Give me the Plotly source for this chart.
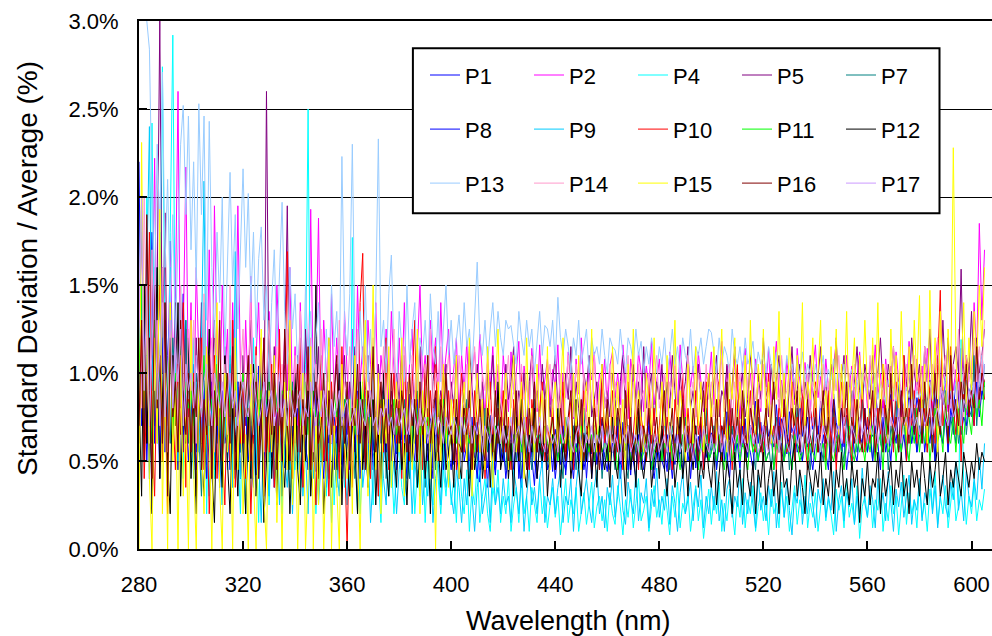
import plotly.graph_objects as go

# Wavelength grid (nm), 1 nm steps
WAVELENGTH = list(range(280, 700))

# Values in hundredths of a percent (73 -> 0.73 %), 280 nm onward
P1 = [220, 90, 150, 60, 120, 180, 70, 130, 95, 160, 55, 110, 140, 75, 125, 60, 100, 145, 80, 115,
      70, 105, 55, 90, 62, 110, 48, 85, 95, 58, 100, 72, 45, 88, 66, 102, 54, 80, 92, 60,
      78, 50, 96, 68, 84, 42, 104, 74, 58, 90, 66, 52, 98, 80, 60, 88, 46, 76, 94, 64,
      56, 86, 72, 100, 50, 82, 68, 92, 44, 78, 62, 96, 70, 54, 90, 76, 58, 84, 48, 72,
      88, 60, 74, 52, 94, 66, 80, 46, 70, 86, 56, 78, 64, 92, 50, 74, 60, 82, 68, 54,
      84, 62, 72, 48, 88, 58, 76, 66, 52, 80, 70, 56, 74, 46, 86, 64, 58, 78, 50, 68,
      62, 48, 74, 40, 66, 56, 80, 44, 60, 52, 72, 38, 64, 58, 46, 76, 54, 42, 68, 60,
      50, 70, 44, 62, 56, 78, 40, 58, 66, 48, 74, 52, 36, 64, 60, 46, 70, 54, 62, 44,
      68, 56, 48, 72, 42, 60, 64, 50, 76, 46, 58, 66, 40, 62, 54, 70, 48, 60, 74, 52,
      44, 64, 58, 50, 68, 46, 72, 56, 62, 42, 66, 54, 48, 70, 58, 52, 76, 46, 60, 64,
      50, 68, 56, 44, 72, 60, 48, 66, 54, 62, 74, 50, 58, 70, 46, 64, 56, 68, 52, 60,
      66, 54, 74, 60, 70, 50, 78, 62, 68, 56, 80, 64, 58, 74, 52, 70, 66, 84, 60, 72,
      56, 76, 64, 70, 58, 82, 62, 74, 68, 54, 78, 66, 72, 60, 86, 64, 70, 58, 80, 68,
      74, 62, 84, 70, 60, 78, 66, 88, 72, 64, 82, 58, 76, 70, 90, 66, 74, 62, 86, 72,
      68, 80, 64, 92, 74, 70, 84, 62, 78, 88, 72, 66, 94, 76, 82, 70, 90, 74, 68, 86,
      78, 92, 72, 84, 96, 76, 88, 70, 94, 82, 98, 80, 86, 74, 100, 84, 92, 78, 96, 88,
      94, 84, 102, 90, 98, 92]

P2 = [120, 180, 90, 150, 70, 110, 222, 95, 160, 60, 130, 85, 175, 100, 140, 260, 80, 120, 217, 90,
      140, 70, 160, 100, 55, 130, 90, 170, 60, 195, 110, 75, 150, 95, 125, 60, 140, 85, 195, 100,
      70, 130, 85, 155, 65, 110, 140, 80, 120, 60, 135, 95, 75, 150, 105, 70, 125, 90, 160, 80,
      115, 65, 140, 95, 120, 75, 193, 90, 110, 188, 80, 130, 100, 70, 145, 85, 120, 95, 65, 135,
      100, 80, 125, 70, 150, 95, 115, 60, 130, 105, 85, 140, 75, 110, 95, 125, 80, 135, 100, 70,
      120, 90, 140, 80, 105, 125, 75, 115, 150, 95, 110, 85, 130, 100, 120, 80, 140, 95, 110, 125,
      85, 105, 120, 75, 110, 90, 118, 80, 100, 112, 88, 122, 95, 75, 108, 92, 115, 82, 104, 70,
      110, 95, 78, 112, 88, 100, 118, 75, 104, 92, 82, 114, 98, 78, 116, 86, 96, 108, 82, 102,
      92, 116, 78, 100, 86, 112, 95, 74, 108, 88, 120, 92, 78, 104, 96, 112, 82, 100, 90, 108,
      78, 104, 112, 86, 100, 82, 116, 92, 74, 108, 96, 86, 112, 100, 78, 104, 92, 118, 82, 96,
      108, 86, 100, 78, 112, 92, 104, 82, 116, 96, 74, 108, 92, 104, 82, 112, 96, 78, 100, 92,
      112, 82, 100, 92, 118, 78, 104, 96, 86, 108, 92, 74, 104, 114, 86, 100, 82, 108, 96, 78,
      104, 92, 114, 82, 100, 118, 86, 96, 78, 108, 92, 104, 82, 114, 96, 86, 106, 92, 78, 102,
      116, 86, 98, 82, 108, 92, 78, 104, 118, 86, 100, 80, 110, 92, 104, 84, 98, 112, 88, 100,
      80, 106, 94, 116, 86, 100, 78, 108, 92, 104, 84, 112, 96, 80, 106, 90, 118, 96, 82, 108,
      92, 104, 84, 114, 96, 80, 106, 120, 88, 100, 94, 78, 108, 90, 102, 82, 114, 96, 76, 106,
      96, 140, 110, 185, 130, 170]

P4 = [80, 140, 60, 200, 110, 242, 90, 160, 70, 274, 120, 50, 180, 292, 100, 60, 150, 40, 130, 90,
      60, 120, 30, 90, 50, 140, 20, 100, 70, 40, 110, 60, 25, 95, 45, 130, 35, 80, 55, 20,
      100, 45, 75, 30, 120, 60, 15, 90, 50, 80, 25, 70, 110, 40, 65, 20, 95, 55, 35, 85,
      45, 70, 30, 60, 105, 250, 40, 80, 20, 65, 50, 90, 30, 55, 75, 25, 60, 40, 85, 35,
      55, 30, 177, 45, 70, 20, 50, 85, 35, 60, 25, 75, 40, 15, 55, 65, 30, 50, 20, 45,
      60, 35, 25, 55, 40, 70, 20, 45, 30, 60, 15, 50, 35, 25, 55, 40, 20, 45, 30, 50,
      25, 40, 15, 55, 30, 20, 45, 10, 35, 25, 50, 15, 30, 40, 20, 10, 35, 25, 45, 15,
      30, 20, 40, 10, 25, 35, 15, 45, 20, 30, 10, 35, 25, 15, 40, 20, 30, 12, 25, 35,
      18, 30, 8, 25, 40, 15, 28, 20, 35, 10, 22, 32, 14, 26, 38, 12, 24, 30, 16, 28,
      10, 32, 20, 14, 36, 24, 8, 28, 18, 34, 12, 26, 40, 16, 22, 30, 10, 24, 36, 18,
      28, 14, 34, 22, 8, 30, 18, 38, 12, 26, 20, 32, 10, 24, 36, 16, 28, 6, 22, 34,
      14, 30, 20, 38, 10, 26, 16, 34, 22, 8, 30, 18, 40, 12, 28, 20, 36, 10, 24, 32,
      16, 28, 8, 34, 20, 26, 12, 38, 18, 30, 10, 24, 36, 14, 28, 20, 42, 12, 26, 18,
      32, 10, 24, 38, 16, 28, 20, 8, 34, 22, 30, 12, 40, 18, 26, 14, 36, 6, 24, 30,
      18, 34, 12, 28, 22, 40, 10, 26, 16, 36, 20, 30, 8, 24, 42, 14, 32, 20, 28, 12,
      38, 18, 26, 10, 34, 22, 44, 14, 30, 20, 36, 12, 28, 40, 16, 24, 119, 34, 14, 30,
      20, 38, 16, 28, 22, 34]

P5 = [60, 130, 90, 170, 50, 110, 80, 150, 300, 100, 191, 70, 120, 60, 140, 85, 110, 55, 125, 75,
      95, 60, 120, 80, 140, 55, 105, 70, 90, 130, 65, 100, 50, 115, 85, 60, 125, 75, 95, 55,
      110, 70, 90, 130, 60, 100, 80, 120, 55, 260, 85, 70, 115, 60, 95, 80, 105, 195, 75, 90,
      60, 110, 85, 70, 125, 90, 55, 100, 75, 115, 65, 95, 80, 120, 60, 90, 105, 70, 85, 110,
      65, 95, 80, 115, 70, 100, 55, 90, 110, 75, 85, 60, 105, 80, 95, 115, 70, 90, 65, 100,
      85, 110, 70, 95, 60, 105, 80, 90, 115, 70, 100, 85, 65, 95, 110, 75, 90, 80, 105, 70,
      95, 80, 110, 65, 100, 85, 75, 115, 90, 70, 105, 80, 95, 60, 100, 85, 110, 75, 90, 80,
      70, 105, 85, 95, 115, 75, 90, 80, 100, 65, 95, 110, 80, 90, 70, 105, 85, 100, 75, 95,
      110, 80, 90, 70, 100, 85, 115, 75, 95, 80, 65, 100, 90, 110, 75, 85, 95, 70, 105, 80,
      90, 75, 100, 85, 65, 95, 110, 80, 90, 70, 105, 85, 95, 75, 115, 80, 90, 100, 70, 95,
      85, 105, 75, 95, 80, 110, 90, 70, 100, 85, 95, 115, 80, 90, 75, 105, 85, 95, 70, 100,
      80, 95, 110, 75, 90, 85, 105, 70, 95, 115, 80, 90, 100, 75, 85, 110, 95, 70, 100, 85,
      120, 90, 75, 105, 85, 95, 110, 80, 100, 70, 95, 115, 85, 90, 105, 75, 95, 85, 110, 90,
      80, 100, 115, 85, 95, 75, 105, 90, 120, 80, 95, 110, 85, 100, 75, 95, 115, 90, 80, 105,
      95, 85, 110, 75, 100, 120, 90, 80, 105, 95, 115, 85, 100, 75, 110, 95, 85, 120, 100, 90,
      105, 80, 115, 95, 125, 85, 100, 110, 90, 130, 95, 120, 85, 105, 115, 100, 159, 90, 110, 100,
      135, 95, 120, 100, 110, 125]

P7 = [90, 150, 60, 120, 40, 100, 130, 70, 110, 50, 140, 80, 60, 120, 90, 45, 105, 75, 130, 60,
      85, 45, 100, 65, 30, 90, 55, 110, 40, 75, 60, 95, 35, 80, 50, 105, 65, 40, 85, 55,
      70, 30, 95, 60, 45, 80, 55, 100, 35, 70, 50, 85, 40, 65, 90, 30, 60, 75, 45, 95,
      55, 70, 35, 85, 60, 45, 100, 50, 65, 30, 80, 55, 70, 40, 90, 60, 35, 75, 50, 85,
      45, 65, 80, 40, 60, 95, 50, 70, 35, 85, 55, 45, 75, 60, 90, 40, 65, 50, 80, 55,
      70, 45, 85, 55, 40, 75, 60, 90, 50, 65, 35, 80, 55, 70, 45, 85, 60, 50, 75, 55,
      65, 50, 80, 45, 70, 55, 85, 40, 60, 75, 50, 65, 45, 80, 55, 70, 40, 60, 75, 50,
      60, 45, 70, 55, 80, 50, 65, 40, 75, 55, 60, 45, 85, 55, 65, 50, 70, 45, 60, 75,
      50, 65, 55, 40, 75, 60, 50, 70, 45, 65, 55, 80, 50, 60, 45, 70, 55, 65, 40, 60,
      70, 50, 60, 45, 75, 55, 65, 50, 40, 70, 60, 55, 75, 45, 65, 50, 60, 70, 45, 55,
      65, 50, 75, 55, 45, 70, 60, 50, 65, 40, 75, 55, 60, 50, 70, 45, 65, 55, 80, 50,
      60, 70, 45, 65, 55, 75, 50, 60, 70, 45, 65, 55, 80, 50, 60, 70, 55, 45, 75, 60,
      50, 70, 60, 45, 65, 75, 55, 60, 50, 70, 45, 65, 60, 80, 55, 50, 70, 60, 45, 65,
      75, 55, 60, 50, 70, 65, 45, 80, 55, 65, 60, 50, 75, 60, 45, 70, 55, 65, 85, 60,
      55, 70, 50, 65, 80, 60, 55, 75, 45, 70, 60, 85, 55, 65, 75, 50, 70, 60, 80, 55,
      70, 60, 85, 55, 75, 65, 50, 80, 70, 60, 90, 55, 75, 65, 85, 60, 70, 95, 65, 80,
      75, 110, 70, 95, 85, 105]

P8 = [140, 70, 110, 50, 90, 150, 60, 100, 40, 120, 80, 55, 130, 70, 95, 45, 115, 65, 85, 50,
      75, 95, 45, 70, 60, 100, 40, 65, 85, 50, 75, 35, 90, 60, 70, 45, 80, 55, 95, 40,
      65, 80, 50, 70, 40, 90, 60, 75, 45, 85, 55, 65, 35, 80, 70, 50, 95, 45, 60, 75,
      50, 85, 40, 70, 60, 45, 80, 55, 90, 50, 65, 40, 75, 60, 85, 45, 70, 55, 40, 80,
      60, 45, 75, 55, 85, 40, 65, 70, 50, 80, 45, 60, 75, 35, 65, 55, 85, 50, 70, 45,
      80, 55, 65, 40, 70, 60, 50, 85, 45, 65, 75, 50, 60, 40, 70, 55, 80, 45, 65, 55,
      45, 65, 55, 40, 70, 50, 60, 45, 75, 55, 40, 65, 50, 60, 35, 70, 55, 45, 65, 50,
      60, 40, 55, 70, 45, 60, 50, 35, 65, 55, 45, 70, 50, 40, 60, 55, 65, 45, 50, 60,
      40, 55, 65, 50, 45, 70, 55, 40, 60, 50, 65, 45, 55, 70, 40, 60, 50, 55, 45, 65,
      55, 45, 60, 50, 70, 40, 55, 65, 45, 60, 50, 40, 65, 55, 45, 60, 70, 50, 40, 55,
      60, 50, 45, 65, 55, 40, 60, 70, 50, 45, 55, 65, 40, 60, 50, 55, 70, 45, 60, 50,
      55, 65, 45, 60, 50, 70, 55, 40, 65, 55, 60, 45, 70, 50, 60, 55, 45, 65, 50, 60,
      70, 50, 55, 65, 45, 60, 75, 55, 50, 65, 60, 45, 70, 55, 60, 50, 65, 75, 55, 45,
      60, 70, 50, 65, 55, 45, 70, 60, 50, 75, 55, 65, 45, 60, 70, 55, 50, 65, 60, 80,
      55, 65, 50, 70, 60, 45, 75, 55, 65, 50, 70, 60, 80, 55, 65, 50, 75, 60, 70, 55,
      65, 80, 55, 70, 60, 75, 50, 85, 65, 60, 75, 55, 80, 70, 60, 90, 65, 75, 70, 85,
      80, 70, 95, 75, 90, 85]

P9 = [100, 200, 70, 150, 240, 90, 130, 60, 180, 80, 110, 40, 160, 70, 120, 50, 140, 90, 60, 110,
      70, 40, 95, 55, 120, 209, 60, 30, 85, 45, 100, 65, 25, 80, 50, 110, 35, 169, 60, 40,
      90, 20, 70, 50, 35, 85, 45, 15, 75, 55, 30, 100, 40, 60, 25, 80, 50, 35, 70, 20,
      60, 45, 85, 30, 55, 20, 75, 40, 65, 25, 50, 90, 35, 60, 15, 70, 45, 30, 80, 50,
      25, 65, 40, 55, 20, 75, 35, 50, 60, 15, 45, 70, 30, 55, 40, 25, 65, 35, 50, 20,
      45, 60, 30, 40, 55, 20, 50, 35, 65, 25, 45, 30, 55, 15, 40, 50, 25, 60, 35, 45,
      30, 20, 45, 35, 15, 40, 25, 50, 30, 10, 35, 45, 20, 30, 40, 15, 50, 25, 35, 20,
      40, 25, 30, 15, 45, 35, 20, 40, 10, 30, 45, 25, 35, 20, 40, 50, 15, 30, 25, 40,
      20, 35, 45, 15, 30, 25, 40, 10, 35, 50, 20, 30, 40, 25, 15, 35, 45, 20, 30, 12,
      35, 25, 42, 18, 30, 48, 22, 14, 38, 28, 20, 44, 16, 32, 26, 40, 12, 34, 24, 46,
      18, 30, 22, 40, 14, 36, 26, 10, 32, 44, 20, 28, 38, 16, 34, 24, 42, 12, 30, 20,
      36, 22, 44, 16, 28, 10, 34, 40, 18, 30, 24, 46, 14, 32, 20, 38, 26, 12, 42, 22,
      30, 16, 36, 24, 44, 12, 28, 34, 18, 40, 22, 8, 32, 26, 42, 14, 30, 20, 38, 24,
      12, 34, 26, 40, 18, 30, 22, 44, 10, 28, 36, 16, 32, 24, 40, 14, 30, 20, 46, 26,
      18, 36, 28, 12, 40, 22, 32, 16, 44, 26, 10, 34, 24, 38, 18, 30, 42, 14, 28, 22,
      40, 16, 32, 26, 46, 20, 36, 12, 30, 42, 24, 18, 38, 28, 50, 22, 34, 16, 44, 30,
      24, 40, 28, 52, 34, 60]

P10 = [60, 120, 40, 90, 180, 70, 30, 110, 150, 50, 95, 20, 130, 80, 45, 105, 65, 140, 35, 85,
       55, 100, 30, 75, 120, 45, 90, 20, 70, 110, 40, 85, 60, 25, 95, 50, 130, 35, 75, 60,
       100, 40, 80, 20, 65, 115, 45, 90, 30, 75, 55, 105, 35, 70, 125, 50, 85, 169, 60, 40,
       90, 55, 120, 35, 75, 100, 45, 65, 25, 85, 110, 50, 70, 30, 95, 60, 80, 40, 115, 55,
       0, 75, 35, 95, 60, 140, 168, 50, 85, 40, 105, 65, 30, 90, 55, 120, 45, 75, 100, 60,
       85, 40, 110, 65, 50, 95, 130, 55, 75, 45, 105, 70, 90, 60, 115, 50, 80, 100, 65, 90,
       60, 85, 45, 75, 100, 55, 80, 65, 45, 90, 70, 55, 85, 40, 75, 95, 60, 50, 80, 65,
       90, 55, 75, 45, 85, 65, 50, 100, 60, 75, 45, 85, 70, 55, 80, 95, 50, 70, 60, 85,
       45, 75, 60, 95, 55, 70, 85, 45, 80, 65, 50, 90, 70, 60, 45, 85, 65, 55, 100, 60,
       75, 50, 90, 65, 55, 80, 45, 70, 95, 55, 65, 85, 45, 75, 65, 50, 95, 60, 80, 55,
       70, 90, 50, 75, 60, 45, 85, 70, 60, 100, 55, 80, 60, 50, 90, 65, 75, 45, 95, 60,
       80, 55, 70, 95, 50, 75, 60, 85, 45, 70, 105, 60, 80, 50, 70, 90, 60, 55, 85, 65,
       50, 75, 100, 60, 70, 45, 85, 65, 80, 55, 60, 95, 50, 75, 65, 90, 60, 45, 80, 70,
       95, 55, 65, 80, 50, 90, 60, 75, 45, 70, 100, 60, 80, 65, 50, 85, 70, 60, 95, 55,
       75, 60, 90, 50, 80, 65, 105, 60, 70, 85, 55, 95, 75, 60, 110, 50, 80, 70, 90, 60,
       100, 65, 80, 55, 95, 75, 60, 105, 147, 70, 85, 60, 115, 80, 65, 100, 50, 90, 110, 75,
       95, 70, 115, 80, 105, 85]

P11 = [100, 150, 70, 120, 90, 60, 130, 80, 110, 140, 75, 95, 120, 65, 100, 85, 115, 70, 95, 80,
       90, 70, 85, 100, 75, 110, 65, 95, 80, 70, 105, 85, 60, 90, 100, 75, 85, 95, 70, 80,
       100, 85, 70, 95, 80, 105, 75, 90, 65, 85, 100, 70, 95, 80, 75, 90, 85, 70, 100, 80,
       75, 90, 70, 85, 95, 65, 80, 90, 75, 70, 85, 95, 70, 80, 65, 90, 75, 85, 70, 80,
       90, 70, 80, 65, 85, 75, 95, 70, 80, 60, 85, 75, 70, 90, 65, 80, 75, 70, 85, 65,
       75, 85, 65, 80, 70, 60, 85, 75, 65, 80, 70, 75, 60, 80, 70, 65, 75, 85, 60, 70,
       65, 75, 60, 70, 55, 75, 65, 60, 70, 55, 65, 75, 60, 50, 70, 65, 55, 70, 60, 65,
       55, 70, 60, 50, 65, 60, 70, 55, 65, 50, 60, 70, 55, 65, 60, 50, 70, 60, 55, 65,
       60, 50, 65, 55, 70, 60, 50, 65, 55, 60, 70, 50, 60, 55, 65, 50, 60, 70, 55, 60,
       50, 65, 55, 60, 45, 65, 55, 60, 70, 50, 55, 65, 60, 50, 55, 65, 60, 45, 55, 60,
       65, 50, 60, 55, 70, 50, 60, 55, 45, 65, 55, 60, 50, 65, 55, 45, 60, 55, 65, 50,
       55, 60, 50, 65, 55, 45, 60, 70, 50, 55, 65, 50, 60, 55, 45, 65, 55, 60, 50, 65,
       60, 50, 55, 70, 45, 60, 55, 65, 50, 60, 55, 45, 65, 60, 50, 55, 70, 50, 60, 55,
       50, 65, 55, 60, 45, 70, 55, 50, 60, 65, 55, 45, 60, 70, 55, 50, 65, 55, 60, 50,
       65, 55, 70, 50, 60, 65, 45, 75, 55, 60, 70, 50, 65, 55, 75, 60, 50, 70, 60, 80,
       55, 70, 60, 75, 50, 65, 80, 60, 70, 55, 85, 65, 60, 75, 55, 80, 70, 60, 85, 75,
       65, 90, 75, 85, 70, 95]

P12 = [90, 30, 150, 60, 120, 20, 100, 160, 40, 80, 130, 50, 20, 110, 70, 140, 30, 90, 60, 120,
       40, 85, 20, 100, 55, 30, 75, 125, 45, 15, 90, 60, 35, 110, 50, 20, 80, 65, 30, 95,
       55, 20, 75, 40, 105, 30, 60, 85, 15, 50, 130, 40, 70, 25, 95, 55, 35, 80, 20, 60,
       100, 45, 25, 70, 50, 90, 30, 60, 150, 40, 75, 20, 55, 85, 35, 65, 45, 110, 25, 70,
       50, 30, 80, 60, 20, 95, 45, 70, 35, 55, 85, 25, 65, 40, 100, 50, 30, 75, 55, 35,
       80, 45, 60, 25, 70, 50, 90, 35, 55, 75, 40, 65, 20, 85, 50, 60, 35, 70, 45, 55,
       65, 35, 80, 50, 40, 90, 55, 30, 70, 45, 60, 85, 40, 55, 75, 35, 65, 50, 95, 45,
       55, 70, 40, 60, 30, 75, 50, 85, 45, 35, 65, 55, 80, 40, 60, 50, 70, 30, 55, 65,
       45, 80, 35, 60, 50, 70, 40, 55, 85, 45, 30, 65, 50, 75, 40, 60, 35, 70, 55, 45,
       60, 35, 75, 50, 40, 65, 55, 30, 70, 45, 60, 35, 80, 50, 40, 55, 65, 35, 50, 60,
       40, 70, 45, 30, 55, 65, 35, 50, 75, 40, 55, 30, 60, 45, 70, 35, 50, 40, 60, 45,
       35, 55, 25, 45, 60, 30, 50, 40, 20, 55, 35, 45, 25, 60, 40, 30, 50, 20, 45, 35,
       55, 25, 40, 50, 30, 45, 20, 55, 35, 40, 25, 50, 60, 30, 45, 35, 20, 50, 40, 30,
       45, 35, 55, 25, 40, 30, 50, 20, 45, 35, 55, 30, 40, 25, 50, 35, 45, 15, 40, 30,
       50, 25, 40, 35, 55, 20, 45, 30, 40, 50, 25, 45, 35, 55, 30, 40, 20, 50, 35, 45,
       30, 55, 40, 25, 50, 35, 45, 60, 30, 40, 55, 25, 45, 35, 50, 40, 30, 55, 45, 35,
       50, 40, 60, 45, 55, 50]

P13 = [310, 300, 310, 300, 284, 200, 150, 230, 180, 271, 160, 210, 140, 190, 120, 170, 230, 252, 190, 246,
       170, 220, 150, 253, 190, 246, 130, 243, 160, 120, 180, 140, 200, 110, 165, 214, 150, 190, 125, 175,
       216, 160, 202, 140, 180, 120, 165, 183, 130, 150, 95, 140, 170, 115, 155, 197, 135, 105, 160, 125,
       145, 100, 130, 85, 150, 110, 135, 90, 120, 140, 105, 80, 125, 95, 150, 115, 135, 100, 223, 130,
       110, 145, 230, 120, 90, 135, 105, 150, 95, 125, 85, 140, 233, 115, 130, 100, 145, 167, 110, 90,
       135, 115, 95, 150, 105, 125, 140, 90, 120, 110, 130, 100, 145, 115, 105, 135, 95, 125, 150, 110,
       130, 105, 120, 133, 110, 140, 115, 125, 100, 135, 163, 120, 110, 130, 105, 125, 140, 115, 135, 120,
       110, 130, 125, 127, 115, 105, 135, 120, 110, 130, 115, 125, 100, 120, 135, 110, 127, 125, 115, 130,
       105, 143, 120, 110, 125, 115, 100, 120, 110, 130, 105, 115, 125, 100, 120, 110, 115, 105, 125, 110,
       100, 120, 115, 113, 105, 125, 110, 100, 120, 115, 105, 125, 110, 118, 100, 115, 105, 120, 110, 100,
       115, 105, 120, 100, 110, 125, 105, 115, 100, 120, 110, 105, 125, 100, 115, 110, 120, 105, 115, 125,
       123, 110, 100, 120, 105, 115, 110, 100, 125, 110, 105, 115, 100, 120, 105, 110, 118, 100, 112, 105,
       110, 100, 115, 105, 95, 112, 100, 108, 95, 110, 100, 105, 92, 108, 98, 112, 95, 105, 100, 92,
       105, 95, 100, 110, 92, 102, 96, 108, 90, 100, 95, 105, 88, 98, 102, 92, 96, 85, 100, 92,
       88, 96, 90, 100, 85, 94, 90, 82, 96, 88, 92, 84, 95, 88, 80, 92, 86, 95, 82, 90,
       85, 92, 80, 88, 95, 84, 90, 78, 92, 86, 98, 82, 90, 85, 95, 80, 92, 88, 100, 85,
       95, 88, 105, 92, 110, 100]

P14 = [150, 80, 200, 110, 60, 170, 90, 130, 70, 160, 100, 55, 140, 85, 120, 65, 150, 95, 75, 125,
       90, 130, 60, 110, 80, 145, 70, 100, 120, 55, 95, 135, 75, 105, 65, 150, 85, 115, 60, 100,
       125, 75, 95, 140, 65, 110, 85, 120, 55, 100, 130, 70, 90, 115, 60, 105, 80, 125, 95, 70,
       110, 80, 135, 65, 100, 90, 120, 55, 105, 85, 125, 70, 95, 115, 60, 100, 80, 130, 75, 95,
       85, 115, 70, 100, 125, 65, 90, 110, 75, 95, 120, 60, 100, 85, 115, 70, 105, 90, 125, 80,
       100, 75, 115, 90, 65, 110, 85, 120, 70, 95, 105, 80, 125, 75, 100, 90, 115, 70, 95, 110,
       85, 100, 75, 110, 90, 80, 105, 70, 95, 115, 85, 75, 100, 90, 110, 80, 70, 95, 105, 85,
       75, 95, 110, 80, 90, 100, 70, 105, 85, 95, 75, 110, 90, 80, 100, 85, 70, 95, 105, 80,
       95, 80, 100, 70, 90, 110, 85, 75, 105, 90, 80, 100, 70, 95, 85, 110, 75, 90, 100, 80,
       90, 105, 75, 95, 85, 70, 100, 90, 110, 80, 95, 75, 105, 85, 90, 70, 100, 80, 95, 110,
       80, 90, 100, 75, 95, 85, 105, 70, 90, 100, 80, 110, 85, 95, 75, 100, 90, 80, 105, 85,
       95, 75, 100, 85, 110, 80, 90, 105, 70, 95, 85, 100, 80, 110, 90, 75, 100, 85, 95, 80,
       105, 85, 90, 75, 100, 95, 80, 110, 85, 90, 100, 75, 95, 105, 80, 90, 85, 100, 75, 95,
       90, 100, 80, 105, 85, 95, 75, 100, 90, 110, 80, 95, 85, 100, 75, 105, 90, 80, 95, 100,
       85, 110, 90, 75, 100, 95, 85, 105, 80, 95, 115, 85, 100, 90, 75, 105, 95, 85, 110, 90,
       100, 85, 115, 95, 80, 105, 90, 120, 85, 100, 110, 90, 80, 105, 95, 125, 85, 100, 110, 95,
       105, 120, 95, 115, 100, 130]

P15 = [0, 231, 80, 150, 40, 0, 120, 60, 193, 20, 100, 0, 140, 50, 90, 0, 110, 30, 75, 0,
       130, 45, 0, 95, 60, 20, 115, 70, 0, 85, 140, 35, 0, 100, 55, 75, 0, 120, 45, 90,
       20, 65, 0, 105, 40, 0, 80, 125, 30, 0, 90, 55, 110, 15, 70, 0, 95, 45, 130, 25,
       80, 0, 60, 100, 0, 40, 115, 0, 75, 25, 90, 0, 55, 120, 0, 70, 35, 0, 105, 60,
       40, 85, 20, 110, 55, 0, 95, 130, 30, 75, 150, 45, 100, 20, 85, 60, 115, 35, 70, 95,
       55, 120, 30, 80, 100, 45, 65, 125, 20, 90, 60, 110, 40, 75, 0, 95, 50, 105, 70, 35,
       85, 60, 110, 40, 75, 95, 50, 120, 30, 70, 100, 55, 85, 45, 115, 65, 35, 90, 125, 60,
       75, 100, 45, 85, 110, 55, 70, 95, 40, 120, 65, 80, 50, 105, 70, 90, 60, 115, 45, 80,
       95, 55, 85, 120, 60, 75, 50, 100, 65, 110, 45, 80, 95, 60, 125, 70, 55, 90, 105, 65,
       80, 50, 115, 70, 95, 60, 85, 45, 105, 75, 125, 60, 90, 70, 55, 100, 80, 65, 120, 75,
       60, 95, 70, 110, 55, 85, 130, 65, 90, 75, 50, 105, 80, 60, 115, 70, 95, 55, 85, 100,
       70, 115, 60, 90, 125, 75, 55, 100, 85, 120, 65, 95, 70, 110, 60, 130, 80, 65, 105, 90,
       125, 70, 95, 60, 115, 85, 135, 75, 100, 65, 120, 90, 70, 110, 80, 140, 65, 95, 85, 120,
       75, 100, 130, 70, 90, 60, 115, 85, 125, 65, 105, 80, 135, 70, 95, 120, 60, 110, 85, 130,
       90, 65, 120, 80, 140, 70, 105, 95, 60, 125, 85, 110, 75, 135, 90, 65, 115, 80, 130, 95,
       144, 70, 105, 60, 147, 85, 120, 55, 135, 95, 75, 125, 90, 228, 110, 65, 100, 140, 80, 120,
       90, 135, 105, 150, 115, 160]

P16 = [70, 130, 50, 190, 90, 40, 150, 80, 110, 60, 140, 30, 120, 75, 95, 55, 130, 85, 65, 100,
       55, 95, 75, 120, 45, 85, 65, 110, 40, 90, 70, 130, 50, 80, 100, 60, 115, 45, 75, 95,
       60, 85, 110, 50, 75, 95, 40, 70, 120, 55, 85, 65, 100, 45, 80, 60, 125, 70, 50, 90,
       75, 105, 55, 85, 65, 115, 45, 80, 95, 60, 70, 100, 50, 90, 65, 85, 110, 55, 75, 60,
       95, 50, 80, 70, 105, 60, 85, 45, 90, 75, 115, 55, 70, 95, 60, 80, 50, 100, 65, 85,
       60, 90, 75, 55, 100, 70, 85, 50, 95, 65, 80, 110, 60, 75, 90, 55, 85, 70, 100, 65,
       70, 50, 85, 60, 55, 80, 65, 90, 45, 75, 55, 85, 60, 50, 80, 70, 55, 90, 60, 75,
       55, 85, 50, 70, 60, 90, 55, 75, 65, 45, 80, 60, 95, 55, 70, 55, 85, 50, 65, 75,
       60, 55, 80, 65, 50, 75, 90, 55, 70, 60, 85, 50, 65, 75, 55, 80, 60, 45, 75, 65,
       85, 55, 65, 50, 80, 70, 55, 90, 60, 75, 50, 65, 85, 55, 70, 60, 80, 50, 65, 75,
       55, 70, 90, 55, 65, 80, 50, 75, 60, 85, 55, 70, 50, 80, 65, 50, 75, 90, 60, 55,
       75, 60, 85, 55, 70, 65, 95, 50, 80, 60, 75, 55, 90, 65, 55, 80, 70, 60, 85, 55,
       65, 80, 55, 75, 95, 60, 70, 50, 85, 65, 55, 80, 70, 90, 55, 75, 60, 85, 65, 55,
       80, 55, 70, 90, 60, 75, 50, 85, 65, 55, 80, 70, 95, 55, 75, 60, 85, 65, 55, 80,
       60, 75, 90, 55, 70, 85, 55, 80, 65, 100, 60, 75, 55, 90, 70, 80, 60, 105, 65, 75,
       85, 60, 95, 70, 80, 55, 100, 75, 65, 90, 80, 60, 110, 75, 85, 70, 95, 80, 105, 75,
       90, 80, 115, 85, 100, 95]

P17 = [130, 200, 90, 150, 70, 120, 160, 85, 110, 140, 75, 100, 130, 80, 115, 95, 125, 70, 105, 90,
       100, 80, 110, 90, 75, 95, 105, 85, 70, 100, 90, 80, 95, 75, 85, 100, 80, 90, 70, 85,
       95, 80, 75, 90, 100, 85, 70, 80, 95, 75, 85, 90, 70, 80, 100, 75, 85, 70, 90, 80,
       75, 85, 90, 70, 80, 75, 95, 80, 70, 85, 75, 90, 80, 65, 85, 75, 80, 90, 70, 80,
       85, 70, 75, 80, 65, 85, 75, 70, 80, 90, 70, 75, 65, 80, 75, 85, 70, 75, 65, 80,
       70, 75, 80, 65, 70, 85, 75, 65, 80, 70, 75, 60, 70, 80, 65, 75, 70, 60, 75, 70,
       65, 75, 70, 60, 75, 65, 70, 80, 60, 70, 65, 75, 55, 70, 65, 60, 75, 65, 70, 60,
       70, 60, 65, 75, 55, 65, 70, 60, 75, 65, 55, 70, 60, 65, 75, 60, 55, 70, 65, 60,
       65, 55, 70, 60, 65, 75, 60, 55, 65, 70, 60, 55, 65, 60, 70, 55, 65, 60, 70, 55,
       60, 70, 55, 65, 60, 50, 65, 60, 70, 55, 60, 65, 55, 70, 60, 55, 65, 50, 60, 65,
       55, 60, 65, 55, 70, 60, 50, 65, 55, 60, 70, 55, 60, 50, 65, 60, 55, 70, 60, 55,
       65, 55, 60, 70, 55, 65, 60, 50, 65, 60, 70, 55, 65, 60, 55, 70, 60, 65, 55, 60,
       70, 60, 55, 65, 60, 70, 55, 65, 75, 60, 55, 65, 70, 60, 65, 55, 70, 60, 65, 75,
       60, 65, 55, 70, 65, 60, 75, 55, 65, 70, 60, 75, 65, 55, 70, 65, 60, 75, 65, 70,
       60, 70, 65, 75, 60, 70, 80, 65, 60, 75, 70, 65, 80, 60, 70, 75, 65, 85, 70, 75,
       65, 80, 70, 75, 85, 65, 75, 80, 70, 90, 75, 70, 85, 75, 80, 95, 70, 85, 80, 90,
       85, 95, 80, 100, 90, 105]

SERIES_NAMES = ["P1", "P2", "P4", "P5", "P7", "P8", "P9", "P10", "P11", "P12",
                "P13", "P14", "P15", "P16", "P17"]
SERIES_VALUES = [P1, P2, P4, P5, P7, P8, P9, P10, P11, P12, P13, P14, P15, P16, P17]
SERIES_COLORS = ["#0000FF", "#FF00FF", "#00FFFF", "#800080", "#008080",
                 "#0000FF", "#00CCFF", "#FF0000", "#00FF00", "#000000",
                 "#99CCFF", "#FF99CC", "#FFFF00", "#800000", "#CC99FF"]
Y_TICKS = [0.0, 0.5, 1.0, 1.5, 2.0, 2.5, 3.0]
Y_TICK_LABELS = ["0.0%", "0.5%", "1.0%", "1.5%", "2.0%", "2.5%", "3.0%"]
X_TICKS = [280, 320, 360, 400, 440, 480, 520, 560, 600]

# ---------------- layout geometry (pixels) ----------------
W, H = 992, 636
ML, MR, MT, MB = 139, 0, 21, 87
PW, PH = W - ML - MR, H - MT - MB
PX_PER_NM = 2.6016


def px_x(p):
    return (p - ML) / PW


def px_y(p):
    return (H - MB - p) / PH


FONT = "Liberation Sans, Arial, sans-serif"

fig = go.Figure()
legend_ids = ["legend", "legend2", "legend3"]
for i, (name, vals, col) in enumerate(zip(SERIES_NAMES, SERIES_VALUES, SERIES_COLORS)):
    fig.add_trace(go.Scatter(
        x=WAVELENGTH[:len(vals)],
        y=[v / 100 for v in vals],
        mode="lines",
        name=name,
        line=dict(color=col, width=1),
        legend=legend_ids[i // 5],
        hoverinfo="skip",
    ))

legend_rows_px = [75.2, 129.3, 183.3]
legend_common = dict(
    orientation="h", xanchor="left", yanchor="middle",
    bgcolor="rgba(0,0,0,0)", borderwidth=0,
    font=dict(family=FONT, size=22, color="black"),
    entrywidth=59, entrywidthmode="pixels", itemwidth=30,
    tracegroupgap=0,
)
legend_x = px_x(425)

fig.update_layout(
    width=W, height=H,
    margin=dict(l=ML, r=MR, t=MT, b=MB, pad=0),
    paper_bgcolor="white", plot_bgcolor="white",
    font=dict(family=FONT, size=22, color="black"),
    showlegend=True,
    hovermode=False,
    legend=dict(x=legend_x, y=px_y(legend_rows_px[0]), **legend_common),
    legend2=dict(x=legend_x, y=px_y(legend_rows_px[1]), **legend_common),
    legend3=dict(x=legend_x, y=px_y(legend_rows_px[2]), **legend_common),
    xaxis=dict(
        range=[280, 280 + PW / PX_PER_NM],
        tickvals=X_TICKS, ticktext=[str(t) for t in X_TICKS],
        ticks="inside", ticklen=8, tickwidth=2, tickcolor="black",
        showline=True, linewidth=2, linecolor="black", mirror=True,
        showgrid=False, zeroline=False,
        tickfont=dict(family=FONT, size=22, color="black"),
        ticklabelstandoff=15,
    ),
    yaxis=dict(
        range=[0, 3.0],
        tickvals=Y_TICKS, ticktext=Y_TICK_LABELS,
        ticks="inside", ticklen=8, tickwidth=2, tickcolor="black",
        showline=True, linewidth=2, linecolor="black", mirror=False,
        showgrid=True, gridcolor="black", gridwidth=1,
        zeroline=False,
        tickfont=dict(family=FONT, size=22, color="black"),
        ticklabelstandoff=14,
    ),
    shapes=[dict(
        type="rect", xref="paper", yref="paper",
        x0=px_x(412.9), x1=px_x(939.5), y0=px_y(213.3), y1=px_y(48.3),
        fillcolor="white", line=dict(color="black", width=2), layer="above",
    )],
    annotations=[
        dict(text="Wavelength (nm)", xref="paper", yref="paper",
             x=px_x(568.5), y=px_y(621), xanchor="center", yanchor="middle",
             showarrow=False, font=dict(family=FONT, size=27, color="black")),
        dict(text="Standard Deviation / Average (%)", xref="paper", yref="paper",
             x=px_x(27.5), y=px_y(268.5), xanchor="center", yanchor="middle",
             textangle=-90, showarrow=False,
             font=dict(family=FONT, size=28, color="black")),
    ],
)

fig.write_html(
    "out.html",
    config={"displayModeBar": False, "staticPlot": True},
    post_script="document.body.style.margin='0';document.body.style.overflow='hidden';",
)
